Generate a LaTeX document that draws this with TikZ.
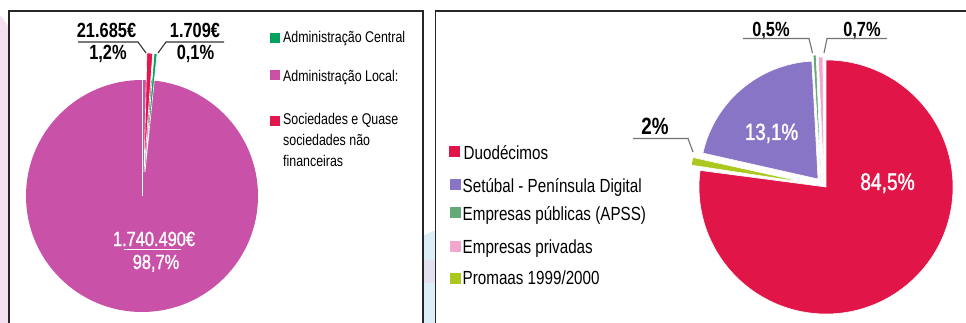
\documentclass[tikz,border=0pt]{standalone}
\usepackage{fontspec}
\setmainfont{Liberation Sans}[FakeStretch=0.8]
\newfontfamily\medfam{Liberation Sans}[FakeStretch=0.8, FakeBold=1.3]
\usetikzlibrary{calc}

\definecolor{bgpink}{HTML}{F3E1F2}
\definecolor{bgblue}{HTML}{DDEFF6}
\definecolor{bglav}{HTML}{E4E0EF}
\definecolor{magen}{HTML}{C952A8}
\definecolor{socred}{HTML}{E2174B}
\definecolor{admgreen}{HTML}{00A25C}
\definecolor{duored}{HTML}{E21548}
\definecolor{setpurple}{HTML}{8875C6}
\definecolor{pubgreen}{HTML}{64AA78}
\definecolor{privpink}{HTML}{F3A7CC}
\definecolor{promyel}{HTML}{AAC81E}

\tikzset{
  boxline/.style={draw=black!85, line width=1.8pt, fill=white},
  pieline/.style={draw=white, line width=0.6pt},
  leadL/.style={draw=black!80, line width=1.1pt},
  leadR/.style={draw=black!55, line width=1.1pt},
  numb/.style={anchor=base, inner sep=0, font=\bfseries\fontsize{20.5}{22}\selectfont},
  numw/.style={anchor=base, inner sep=0, text=white, font=\medfam\fontsize{20.5}{22}\selectfont},
  numbig/.style={anchor=base, inner sep=0, text=white, font=\medfam\fontsize{24}{26}\selectfont},
  legsq/.style={minimum size=10, inner sep=0},
  legL/.style={anchor=base west, inner sep=0, font=\fontsize{15.5}{21}\selectfont},
  legR/.style={anchor=base west, inner sep=0, font=\fontsize{19}{21}\selectfont}
}

\begin{document}
\begin{tikzpicture}[x=1pt,y=-1pt]

\useasboundingbox (0,0) rectangle (966,323);
\clip (0,0) rectangle (966,323);

% background
\fill[bgpink] (-250,215) circle (320);
\fill[bgblue] (470,335) circle (110);
\fill[bglav] (420,260) rectangle (440,283);

\draw[boxline] (8.7,10.7) rectangle (423,345);
\draw[boxline] (435.5,10.7) rectangle (1000,345);

% left pie
\coordinate (PM) at (142,196);
\coordinate (PS) at (144,172);
\coordinate (PC) at (145,172);

\fill[magen] (PM) circle (116);
\draw[white, line width=0.7pt] (PM) -- ++(0,-116);
\fill[socred, pieline] (PS) -- ++(-88.6:119) arc[start angle=-88.6, end angle=-85.8, radius=119] -- cycle;
\fill[admgreen, pieline] (PC) -- ++(-85.6:119) arc[start angle=-85.6, end angle=-84.2, radius=119] -- cycle;

\node (vSoc) at (106.5,38) [numb] {21.685€};
\node (pSoc) at (108,60) [numb] {1,2\%};
\node (vCen) at (195,38) [numb] {1.709€};
\node (pCen) at (195.5,60) [numb] {0,1\%};

\coordinate (uS1) at (78,42);
\coordinate (uS2) at (138,42);
\coordinate (tipS) at (146,53);
\coordinate (uC1) at (224,42);
\coordinate (uC2) at (166,42);
\coordinate (tipC) at (158,53);
\draw[leadL] (uS1) -- (uS2) -- (tipS);
\draw[leadL] (uC1) -- (uC2) -- (tipC);

\node (vLoc) at (154,246) [numw] {1.740.490€};
\node (pLoc) at (156,269) [numw] {98,7\%};
\coordinate (uL1) at (124,249.5);
\coordinate (uL2) at (181,249.5);
\draw[white, line width=1pt] (uL1) -- (uL2);

% left legend
\node (sqC) at (275,37.8) [legsq, fill=admgreen] {};
\node (sqL) at (275,74.8) [legsq, fill=magen] {};
\node (sqS) at (275,121) [legsq, fill=socred] {};
\node (tC) at (283,43) [legL] {Administração Central};
\node (tL) at (283,82) [legL] {Administração Local:};
\node (tS1) at (283,124.5) [legL] {Sociedades e Quase};
\node (tS2) at (283,145.5) [legL] {sociedades não};
\node (tS3) at (283,166.5) [legL] {financeiras};

% right pie
\coordinate (QD) at (826,187);
\coordinate (QS) at (818,179);
\coordinate (QA) at (808,183);
\coordinate (QE) at (821,181);
\coordinate (QP) at (824,183);

\fill[duored, pieline] (QD) -- ++(-90:127) arc[start angle=-90, end angle=187.5, radius=127] -- cycle;
\fill[setpurple, pieline] (QS) -- ++(-167.3:118) arc[start angle=-167.3, end angle=-93, radius=118] -- cycle;
\fill[promyel, pieline] (QA) -- ++(-171.3:118) arc[start angle=-171.3, end angle=-167.5, radius=118] -- cycle;
\fill[pubgreen, pieline] (QE) -- ++(-93.6:126) arc[start angle=-93.6, end angle=-92.2, radius=126] -- cycle;
\fill[privpink, pieline] (QP) -- ++(-92.6:126) arc[start angle=-92.6, end angle=-90.5, radius=126] -- cycle;

\node (p131) at (771.5,140) [numbig, font=\medfam\fontsize{23.5}{26}\selectfont] {13,1\%};
\node (p845) at (887.5,190) [numbig] {84,5\%};

\node (p05) at (771,37) [numb] {0,5\%};
\node (p07) at (862,37) [numb] {0,7\%};
\node (p2) at (655,135) [numb, font=\bfseries\fontsize{23.5}{25}\selectfont] {2\%};

\coordinate (uE1) at (743,38.5);
\coordinate (uE2) at (809,38.5);
\coordinate (tipE) at (812.5,53);
\coordinate (uP1) at (887,38.5);
\coordinate (uP2) at (827,38.5);
\coordinate (tipP) at (824,53);
\coordinate (uA1) at (633,138.5);
\coordinate (uA2) at (688,138.5);
\coordinate (tipA) at (693,152);
\draw[leadR] (uE1) -- (uE2) -- (tipE);
\draw[leadR] (uP1) -- (uP2) -- (tipP);
\draw[leadR] (uA1) -- (uA2) -- (tipA);

% right legend
\node (sqD) at (454.5,152) [legsq, minimum size=11, fill=duored] {};
\node (sqT) at (455,185) [legsq, minimum size=11, fill=setpurple] {};
\node (sqE) at (455,212.5) [legsq, minimum size=11, fill=pubgreen] {};
\node (sqP) at (455,246.5) [legsq, minimum size=11, fill=privpink] {};
\node (sqA) at (455,278.5) [legsq, minimum size=11, fill=promyel] {};
\node (tD) at (463.5,160) [legR] {Duodécimos};
\node (tT) at (462.5,193) [legR] {Setúbal - Península Digital};
\node (tE) at (462.5,220) [legR] {Empresas públicas (APSS)};
\node (tP) at (462.5,253) [legR] {Empresas privadas};
\node (tA) at (462.5,284) [legR] {Promaas 1999/2000};

\end{tikzpicture}
\end{document}
